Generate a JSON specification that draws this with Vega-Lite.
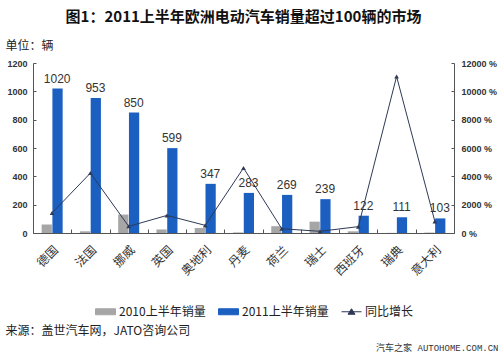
{
  "$schema": "https://vega.github.io/schema/vega-lite/v6.json",
  "width": 421,
  "height": 170,
  "autosize": {"type": "none"},
  "padding": {"left": 33, "top": 63, "right": 46, "bottom": 126},
  "background": "white",
  "title": {
    "text": "图1：2011上半年欧洲电动汽车销量超过100辆的市场",
    "font": "Noto Sans CJK SC",
    "fontSize": 15,
    "fontWeight": "bold",
    "color": "#111111",
    "anchor": "middle",
    "offset": 14
  },
  "config": {
    "view": {"stroke": null},
    "axis": {"grid": false, "domainColor": "#555555", "tickColor": "#555555"},
    "axisY": {"labelOverlap": false, "labelBound": false, "labelFlush": false, "labelSeparation": 0}
  },
  "datasets": {
    "sales": [
      {"country": "德国", "series": "2010上半年销量", "value": 60},
      {"country": "德国", "series": "2011上半年销量", "value": 1020},
      {"country": "法国", "series": "2010上半年销量", "value": 12},
      {"country": "法国", "series": "2011上半年销量", "value": 953},
      {"country": "挪威", "series": "2010上半年销量", "value": 130},
      {"country": "挪威", "series": "2011上半年销量", "value": 850},
      {"country": "英国", "series": "2010上半年销量", "value": 25},
      {"country": "英国", "series": "2011上半年销量", "value": 599},
      {"country": "奥地利", "series": "2010上半年销量", "value": 35},
      {"country": "奥地利", "series": "2011上半年销量", "value": 347},
      {"country": "丹麦", "series": "2010上半年销量", "value": 4},
      {"country": "丹麦", "series": "2011上半年销量", "value": 283},
      {"country": "荷兰", "series": "2010上半年销量", "value": 48},
      {"country": "荷兰", "series": "2011上半年销量", "value": 269},
      {"country": "瑞士", "series": "2010上半年销量", "value": 80},
      {"country": "瑞士", "series": "2011上半年销量", "value": 239},
      {"country": "西班牙", "series": "2010上半年销量", "value": 12},
      {"country": "西班牙", "series": "2011上半年销量", "value": 122},
      {"country": "瑞典", "series": "2010上半年销量", "value": 1},
      {"country": "瑞典", "series": "2011上半年销量", "value": 111},
      {"country": "意大利", "series": "2010上半年销量", "value": 3},
      {"country": "意大利", "series": "2011上半年销量", "value": 103}
    ],
    "growth": [
      {"country": "德国", "growth": 1420},
      {"country": "法国", "growth": 4230},
      {"country": "挪威", "growth": 470},
      {"country": "英国", "growth": 1240},
      {"country": "奥地利", "growth": 540},
      {"country": "丹麦", "growth": 4590},
      {"country": "荷兰", "growth": 300},
      {"country": "瑞士", "growth": 120},
      {"country": "西班牙", "growth": 450},
      {"country": "瑞典", "growth": 11050},
      {"country": "意大利", "growth": 820}
    ]
  },
  "encoding": {
    "x": {
      "field": "country",
      "type": "nominal",
      "sort": null,
      "scale": {"paddingInner": 0, "paddingOuter": 0},
      "axis": {
        "labelAngle": -45,
        "labelFont": "Noto Sans CJK SC",
        "labelFontSize": 12,
        "labelColor": "#333333",
        "tickBand": "extent",
        "tickSize": -4,
        "labelPadding": 15,
        "title": "来源：盖世汽车网，JATO咨询公司",
        "titleFont": "Noto Sans CJK SC",
        "titleFontSize": 12,
        "titleFontWeight": "normal",
        "titleColor": "#222222",
        "titleAngle": 0,
        "titleX": -28,
        "titleY": 97,
        "titleAlign": "left",
        "titleBaseline": "middle"
      }
    }
  },
  "layer": [
    {
      "data": {"name": "sales"},
      "layer": [
        {
          "mark": {"type": "bar"},
          "encoding": {
            "xOffset": {"field": "series", "scale": {"paddingInner": 0.05, "paddingOuter": 0.8}},
            "y": {
              "field": "value",
              "type": "quantitative",
              "scale": {"domain": [0, 1200]},
              "axis": {
                "values": [0, 200, 400, 600, 800, 1000, 1200],
                "format": "d",
                "labelOverlap": false,
                "labelFont": "Liberation Sans",
                "labelFontSize": 9,
                "labelFontWeight": "bold",
                "labelColor": "#333333",
                "tickSize": -3,
                "labelPadding": 9,
                "title": "单位：辆",
                "titleFont": "Noto Sans CJK SC",
                "titleFontSize": 12,
                "titleFontWeight": "normal",
                "titleColor": "#222222",
                "titleAngle": 0,
                "titleX": -28,
                "titleY": -18,
                "titleAlign": "left",
                "titleBaseline": "middle"
              }
            },
            "color": {
              "field": "series",
              "type": "nominal",
              "scale": {
                "domain": ["2010上半年销量", "2011上半年销量", "同比增长"],
                "range": ["#a6a6a6", "#1b5fc1", "#2e3a56"]
              },
              "legend": {
                "orient": "none",
                "legendX": 62,
                "legendY": 238,
                "direction": "horizontal",
                "title": null,
                "labelFont": "Noto Sans CJK SC",
                "labelFontSize": 12,
                "labelColor": "#222222",
                "symbolSize": 400,
                "columnPadding": 10,
                "labelOffset": 3,
                "encode": {
                  "symbols": {
                    "update": {
                      "shape": {"signal": "datum.value === '同比增长' ? 'M-1,0H1M-0.35,0.25L0,-0.3L0.35,0.25Z' : 'M-1,-0.3H1V0.3H-1Z'"},
                      "fill": {"signal": "scale('color', datum.value)"},
                      "stroke": {"signal": "datum.value === '同比增长' ? scale('color', datum.value) : 'transparent'"},
                      "strokeWidth": {"value": 1}
                    }
                  }
                }
              }
            }
          }
        },
        {
          "transform": [{"filter": "datum.series === '2011上半年销量'"}],
          "mark": {"type": "text", "baseline": "bottom", "dy": -3, "dx": 5, "font": "Liberation Sans", "fontSize": 12, "color": "#333333"},
          "encoding": {
            "y": {"field": "value", "type": "quantitative", "axis": {"values": [0, 200, 400, 600, 800, 1000, 1200], "labelOverlap": false}},
            "text": {"field": "value", "type": "quantitative"}
          }
        }
      ]
    },
    {
      "data": {"name": "growth"},
      "mark": {"type": "line", "strokeWidth": 1, "point": {"shape": "triangle-up", "size": 22, "filled": true}},
      "encoding": {
        "y": {
          "field": "growth",
          "type": "quantitative",
          "scale": {"domain": [0, 12000]},
          "axis": {
            "orient": "right",
            "values": [0, 2000, 4000, 6000, 8000, 10000, 12000],
            "labelOverlap": false,
            "labelExpr": "datum.value + ' %'",
            "labelFont": "Liberation Sans",
            "labelFontSize": 9,
            "labelFontWeight": "bold",
            "labelColor": "#333333",
            "tickSize": -3,
            "labelPadding": 10,
            "title": "汽车之家  AUTOHOME.COM.CN",
            "titleFont": "Liberation Mono, Noto Sans CJK SC",
            "titleFontSize": 9,
            "titleFontWeight": "normal",
            "titleColor": "#333333",
            "titleAngle": 0,
            "titleX": 44,
            "titleY": 284,
            "titleAlign": "right",
            "titleBaseline": "middle"
          }
        },
        "color": {"datum": "同比增长"}
      }
    }
  ],
  "resolve": {"scale": {"y": "independent"}}
}
